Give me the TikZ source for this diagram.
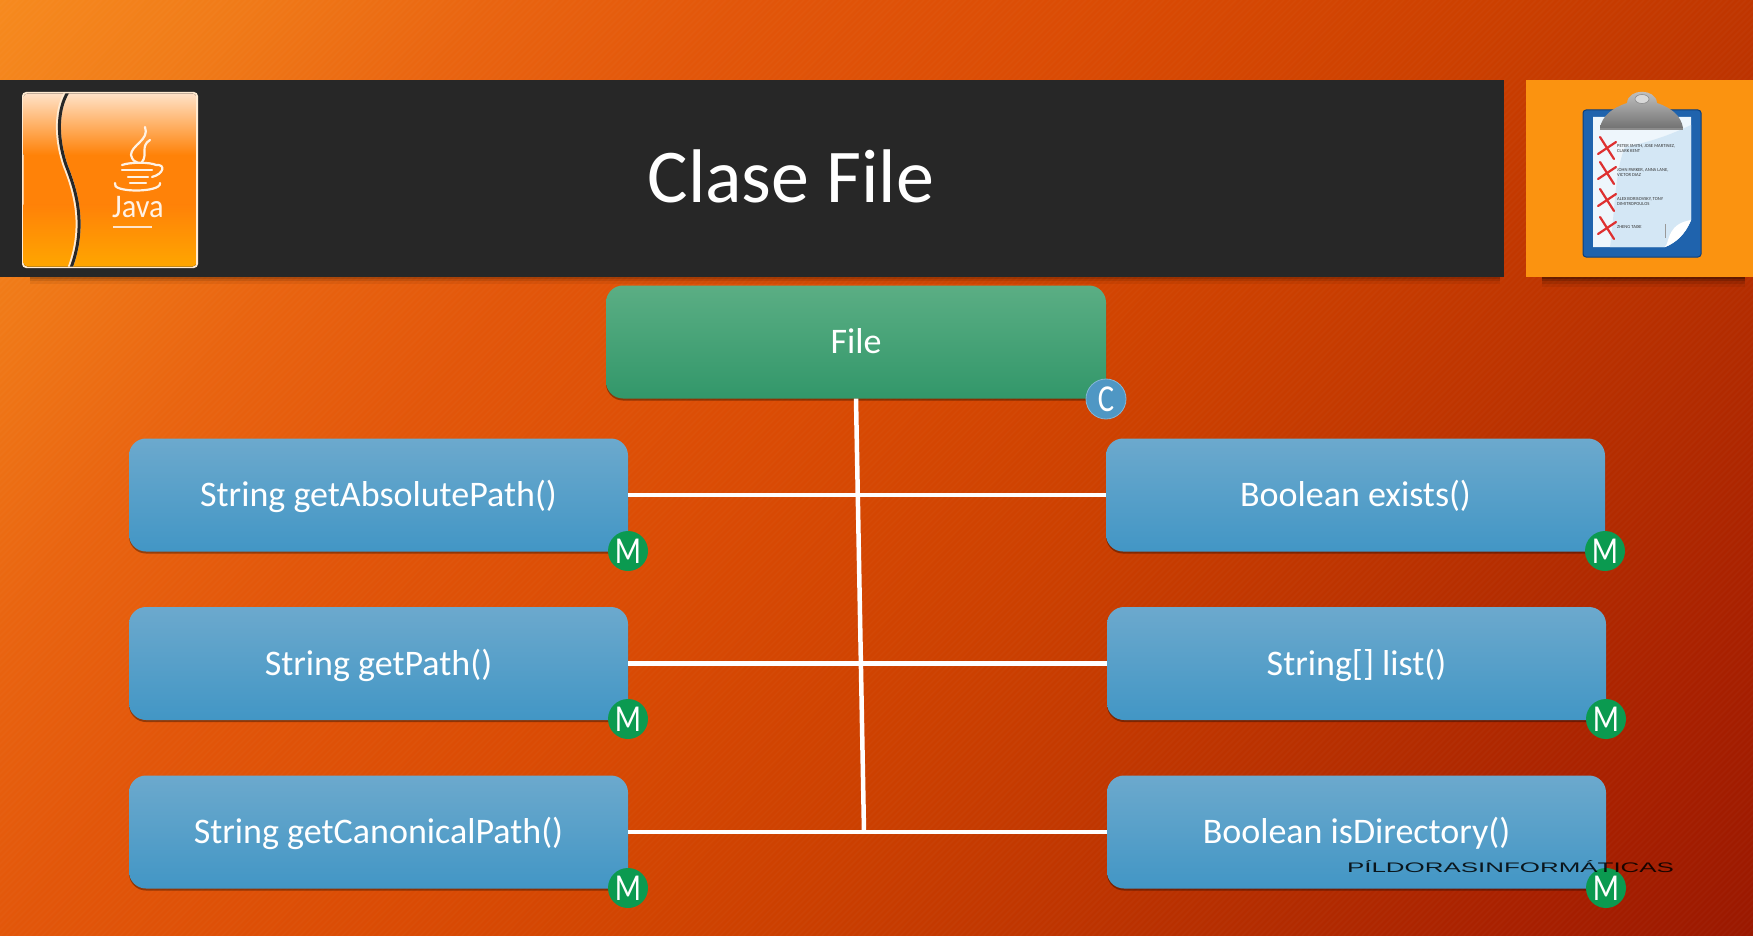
\documentclass[tikz,border=0pt]{standalone}
\usepackage{fontspec}
\setmainfont{Carlito}
\newfontfamily\wmfont{Liberation Sans}
\usetikzlibrary{shadows}
\definecolor{barblack}{HTML}{272727}
\definecolor{sqorange}{HTML}{FB9310}
\definecolor{bluetop}{HTML}{6CA9CD}
\definecolor{bluebot}{HTML}{4296C5}
\definecolor{greentop}{HTML}{5BAE84}
\definecolor{greenbot}{HTML}{32976A}
\definecolor{badgeblue}{HTML}{4F97C4}
\definecolor{badgegreen}{HTML}{0B9A50}
\definecolor{bg0}{HTML}{F68A1E}
\definecolor{bg1}{HTML}{F07A18}
\definecolor{bg2}{HTML}{E96410}
\definecolor{bg3}{HTML}{E2560A}
\definecolor{bg4}{HTML}{DA4B04}
\definecolor{bg5}{HTML}{CC4000}
\definecolor{bg6}{HTML}{C03600}
\definecolor{bg7}{HTML}{B32C00}
\definecolor{bg8}{HTML}{A82000}
\definecolor{bg9}{HTML}{9A1800}
\definecolor{logolight}{HTML}{FFE2C8}
\definecolor{logomid}{HTML}{FF8208}
\definecolor{logobot}{HTML}{FFA600}
\definecolor{logoedge}{HTML}{FFEBD2}
\definecolor{boardblue}{HTML}{1F63AD}
\definecolor{boardedge}{HTML}{0E3F7A}
\definecolor{paperblue}{HTML}{D4E7F5}
\definecolor{paperlight}{HTML}{EEF6FC}
\definecolor{xred}{HTML}{DE3030}
\pgfdeclarehorizontalshading{bgshade}{100bp}{
  color(0bp)=(bg0); color(25bp)=(bg0); color(30bp)=(bg1); color(35bp)=(bg2); color(40bp)=(bg3); color(47.5bp)=(bg4); color(55bp)=(bg5); color(60bp)=(bg6); color(65bp)=(bg7); color(70bp)=(bg8); color(75bp)=(bg9); color(100bp)=(bg9)}
\newcommand{\badgeletter}[1]{\raisebox{-1pt}{\scalebox{.9}[1.12]{#1}}}
\newcommand{\boxtext}[1]{\raisebox{-11.5pt}[25pt][25pt]{#1}}
\tikzset{
  x=1pt,y=-1pt,
  methodbox/.style={rounded corners=17pt,top color=bluetop,bottom color=bluebot,draw=none,
    minimum height=113pt,inner sep=0pt,text=white,
    font=\fontsize{36}{39}\selectfont,
    drop shadow={shadow xshift=0pt,shadow yshift=-2pt,opacity=.35,fill=black}},
  leftbox/.style={methodbox,minimum width=499pt},
  rightbox/.style={methodbox,minimum width=499pt},
  classbox/.style={methodbox,top color=greentop,bottom color=greenbot,minimum width=500pt},
  badge/.style={circle,minimum size=40pt,inner sep=0pt,text=white,font=\fontsize{34}{36}\selectfont},
  cbadge/.style={badge,fill=badgeblue,draw=badgeblue!70!white,line width=.8pt},
  mbadge/.style={badge,fill=badgegreen},
  link/.style={draw=white,line width=4.5pt},
  redx/.style={draw=xred,line width=2.2pt,line cap=round},
  tiny/.style={anchor=west,inner sep=0pt,text=black!80,align=left,font=\fontsize{4.6}{5.2}\selectfont}
}
\begin{document}
\begin{tikzpicture}
\useasboundingbox (0,0) rectangle (1753,936);
% background
\begin{scope}
\clip (0,0) rectangle (1753,936);
\shade[shading=bgshade,transform canvas={rotate around={-38:(876.5,468)}}]
  (876.5-979,468-1300) rectangle (876.5+979,468+1300);
\foreach \i in {0,6,...,2700}{
  \draw[white,opacity=.025,line width=1.5pt] (\i,0) -- (\i-936,936);
}
\end{scope}
% header shadows
\foreach \d/\op in {2/.12,4/.10,7/.06}{
  \fill[black,opacity=\op] (30,277) rectangle (1500,277+\d);
}
\foreach \d/\op in {2/.22,4/.16,7/.10,10/.06}{
  \fill[black,opacity=\op] (1542,277) rectangle (1745,277+\d);
}
% header
\fill[barblack] (0,80.5) rectangle (1504,277);
\fill[sqorange] (1526,80.5) rectangle (1753,277);
\node[text=white,font=\fontsize{76}{80}\selectfont] (title) at (791,176) {Clase File};
% java logo
\fill[rounded corners=4pt,logoedge] (22,92) rectangle (198,268);
\begin{scope}
\clip[rounded corners=4pt] (23.5,93.5) rectangle (196.5,266.5);
\fill[top color=logolight,bottom color=logomid] (23,93) rectangle (197,155);
\fill[logomid] (23,155) rectangle (197,205);
\fill[top color=logomid,bottom color=logobot] (23,205) rectangle (197,267);
\draw[logoedge,line width=5pt] (67,92) .. controls (57,108) and (55,135) .. (65,165) .. controls (75,190) and (86,225) .. (70,268);
\draw[barblack,line width=3pt] (68,92) .. controls (58,108) and (56,135) .. (66,165) .. controls (76,190) and (87,225) .. (71,268);
\end{scope}
\begin{scope}[draw=white!90!orange,line cap=round,line width=2.2pt]
\draw (145,127) .. controls (150,140) and (131,145) .. (131,155) .. controls (132,160) and (135,162) .. (138,163);
\draw (150,140) .. controls (140,146) and (148,155) .. (142,162);
\draw (122,165) .. controls (130,162) and (150,162) .. (156,165) .. controls (166,164) and (164,174) .. (152,177);
\draw (122,170) -- (152,170);
\draw (128,177) -- (148,177);
\draw (130,183) -- (146,183);
\draw (115,183) .. controls (110,193) and (162,193) .. (160,183);
\end{scope}
\node[text=white!90!orange,font=\fontsize{33}{34}\selectfont,inner sep=0pt,xscale=.92] (javatxt) at (138,207) {Java};
\fill[white!80!orange] (113,226) rectangle (152,228);
% clipboard
\draw[fill=boardblue,draw=boardedge,rounded corners=3pt,line width=1pt] (1583,110) rectangle (1701,257);
\fill[paperlight] (1593,117) -- (1691,117) -- (1691,220) .. controls (1685,235) and (1675,243) .. (1665,247) -- (1593,247) -- cycle;
\fill[paperblue] (1625,147) .. controls (1660,140) and (1680,130) .. (1691,125) -- (1691,220) .. controls (1685,235) and (1675,243) .. (1665,247) -- (1610,247) .. controls (1615,210) and (1615,170) .. (1625,147);
\fill[white] (1691,220) .. controls (1680,222) and (1672,226) .. (1668,240) .. controls (1667,244) and (1666,246) .. (1665,247) .. controls (1675,243) and (1685,235) .. (1691,220);
\draw[black!40,line width=.8pt] (1665,224) -- (1665,238);
\shade[top color=black!22,bottom color=black!55] (1600,128) .. controls (1602,116) and (1612,108) .. (1627,103) .. controls (1628,88) and (1656,88) .. (1657,103) .. controls (1672,108) and (1681,116) .. (1683,128) -- cycle;
\fill[black!45] (1600,128) rectangle (1683,130);
\draw[black!45,fill=black!15,line width=.6pt] (1642,99) ellipse (7pt and 4.5pt);
\foreach \yy in {148,173,200,228}{
  \draw[redx] (1600,\yy-11) -- (1614,\yy+11);
  \draw[redx] (1598,\yy+6) -- (1616,\yy-6);
}
\node[tiny] (t1) at (1617,148.5) {PETER SMITH, JOSE MARTINEZ,\\CLARK KENT};
\node[tiny] (t2) at (1617,172.5) {JOHN PARKER, ANNA LANE,\\VICTOR DIAZ};
\node[tiny] (t3) at (1617,201.5) {ALEX BORISOVSKY, TONY\\DIMITROPOULOS};
\node[tiny] (t4) at (1617,227) {ZHENG TAIXE};
% boxes
\node[leftbox] (a1) at (378.5,495) {\boxtext{String getAbsolutePath()}};
\node[leftbox] (a2) at (378.5,663.5) {\boxtext{String getPath()}};
\node[leftbox] (a3) at (378.5,832) {\boxtext{String getCanonicalPath()}};
\node[rightbox] (b1) at (1355.5,495) {\boxtext{Boolean exists()}};
\node[rightbox] (b2) at (1356.5,663.5) {\boxtext{String[] list()}};
\node[rightbox] (b3) at (1356.5,832) {\boxtext{Boolean isDirectory()}};
\node[classbox] (file) at (856,342) {\boxtext{File}};
% connectors
\coordinate (junction) at (864,832);
\draw[link] (file.south) -- (junction);
\draw[link] (a1.east) -- (b1.west);
\draw[link] (a2.east) -- (b2.west);
\draw[link] (a3.east) -- (b3.west);
% badges
\node[cbadge] (c0) at (1106,399) {\badgeletter{C}};
\node[mbadge] (m1) at (628,551) {\badgeletter{M}};
\node[mbadge] (m2) at (628,719) {\badgeletter{M}};
\node[mbadge] (m3) at (628,888) {\badgeletter{M}};
\node[mbadge] (m4) at (1605,551) {\badgeletter{M}};
\node[mbadge] (m5) at (1606,719) {\badgeletter{M}};
\node[mbadge] (m6) at (1606,888) {\badgeletter{M}};
% watermark
\node[inner sep=0pt,text=black,opacity=.85] (wm) at (1510.5,867) {\resizebox{327pt}{12pt}{\wmfont PÍLDORASINFORMÁTICAS}};
\end{tikzpicture}
\end{document}
